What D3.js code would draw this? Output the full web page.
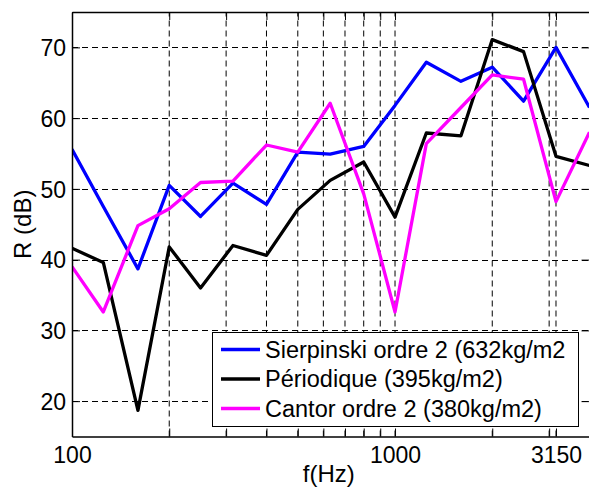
<!DOCTYPE html>
<html>
<head>
<meta charset="utf-8">
<script src="https://cdn.jsdelivr.net/npm/d3@7"></script>
<style>
  html, body { margin: 0; padding: 0; background: #fff; overflow: hidden; }
  svg { display: block; font-family: "Liberation Sans", Arial, sans-serif; }
</style>
</head>
<body>
<svg id="chart" width="589" height="488"></svg>
<script>
// Third-octave band centres (Hz)
const freqs = [100, 125, 160, 200, 250, 315, 400, 500, 630, 800, 1000, 1250, 1600, 2000, 2500, 3150, 4000];

// R (dB)
const sierpinski = [55.6, 47.5, 38.7, 50.5, 46.1, 50.8, 47.8, 55.2, 54.9, 56.0, 61.8, 67.9, 65.2, 67.2, 62.4, 70.0, 61.5];
const periodique = [41.6, 39.6, 18.7, 41.8, 36.0, 42.0, 40.6, 47.1, 51.2, 53.8, 46.0, 57.9, 57.5, 71.1, 69.4, 54.6, 53.3];
const cantor = [39.0, 32.6, 44.8, 47.2, 50.9, 51.1, 56.2, 55.2, 62.1, 49.3, 32.6, 56.4, 61.5, 66.1, 65.5, 48.2, 58.0];

const seriesNames = ['Sierpinski ordre 2 (632kg/m2', 'Périodique (395kg/m2)', 'Cantor ordre 2 (380kg/m2)'];
const seriesColors = ['#0000ff', '#000000', '#ff00ff'];

const xTickLabels = [100, 1000, 3150];
const xMinorTicks = [200, 300, 400, 500, 600, 700, 800, 900, 2000, 3000];
const yTicks = [20, 30, 40, 50, 60, 70];

const svg = d3.select('#chart');
const margin = { left: 72, right: 589.5, top: 12, bottom: 436.5 };

const x = d3.scaleLog()
  .domain([100, 4000])
  .range([margin.left, margin.right]);

const y = d3.scaleLinear()
  .domain([15, 75])
  .range([margin.bottom, margin.top]);

// Grid (dashed)
const gridX = xMinorTicks.concat([1000, 3150]);

svg.append('g')
  .attr('stroke', '#000')
  .attr('stroke-width', 1)
  .attr('stroke-dasharray', '6,4')
  .selectAll('line')
  .data(gridX)
  .join('line')
  .attr('x1', d => x(d))
  .attr('x2', d => x(d))
  .attr('y1', margin.bottom)
  .attr('y2', margin.top);

svg.append('g')
  .attr('stroke', '#000')
  .attr('stroke-width', 1)
  .attr('stroke-dasharray', '6,4')
  .selectAll('line')
  .data(yTicks)
  .join('line')
  .attr('x1', margin.left)
  .attr('x2', margin.right)
  .attr('y1', d => Math.round(y(d)) + 0.5)
  .attr('y2', d => Math.round(y(d)) + 0.5);

// Series lines
svg.append('clipPath').attr('id', 'clip')
  .append('rect')
  .attr('x', margin.left).attr('y', margin.top)
  .attr('width', margin.right - margin.left).attr('height', margin.bottom - margin.top);

const allSeries = [sierpinski, periodique, cantor];

const line = d3.line()
  .x((d, i) => x(freqs[i]))
  .y(d => y(d));

svg.append('g')
  .attr('clip-path', 'url(#clip)')
  .selectAll('path')
  .data(allSeries)
  .join('path')
  .attr('fill', 'none')
  .attr('stroke', (d, i) => seriesColors[i])
  .attr('stroke-width', 3.3)
  .attr('stroke-linejoin', 'round')
  .attr('d', line);

// Axes
const fmt = d => xTickLabels.indexOf(d) >= 0 ? d : '';

const xAxis = svg.append('g')
  .attr('transform', `translate(0,${margin.bottom})`)
  .call(d3.axisBottom(x)
    .tickValues(xTickLabels.concat(xMinorTicks))
    .tickFormat(fmt)
    .tickSizeInner(-8)
    .tickSizeOuter(0)
    .tickPadding(10));

svg.append('g')
  .attr('transform', `translate(0,${margin.top})`)
  .call(d3.axisTop(x)
    .tickValues(xTickLabels.concat(xMinorTicks))
    .tickFormat('')
    .tickSizeInner(-8)
    .tickSizeOuter(0));

const yAxis = svg.append('g')
  .attr('transform', `translate(${margin.left},0)`)
  .call(d3.axisLeft(y)
    .tickValues(yTicks)
    .tickSizeInner(-8)
    .tickSizeOuter(0)
    .tickPadding(6));

svg.append('g')
  .attr('transform', `translate(${margin.right},0)`)
  .call(d3.axisRight(y)
    .tickValues(yTicks)
    .tickFormat('')
    .tickSizeInner(-8)
    .tickSizeOuter(0));

svg.selectAll('.domain').attr('stroke', '#000').attr('stroke-width', 1.5);
svg.selectAll('.tick line').attr('stroke', '#000');
svg.selectAll('.tick text')
  .attr('fill', '#000')
  .style('font-size', '23px');

yAxis.selectAll('.tick text').attr('dy', '0.36em');
xAxis.selectAll('.tick text').attr('dy', '0.72em');

// Axis labels
svg.append('text')
  .attr('x', (margin.left + margin.right) / 2 - 2)
  .attr('y', 482)
  .attr('text-anchor', 'middle')
  .style('font-size', '24px')
  .text('f(Hz)');

svg.append('text')
  .attr('transform', `translate(31,${(margin.top + margin.bottom) / 2}) rotate(-90)`)
  .attr('text-anchor', 'middle')
  .style('font-size', '24px')
  .text('R (dB)');

// Legend
const legend = svg.append('g');

legend.append('rect')
  .attr('x', 212.5)
  .attr('y', 332.5)
  .attr('width', 366)
  .attr('height', 94)
  .attr('fill', '#fff')
  .attr('stroke', '#000')
  .attr('stroke-width', 1);

const rows = legend.selectAll('g.row')
  .data(seriesNames)
  .join('g')
  .attr('transform', (d, i) => `translate(0,${349.5 + i * 29.5})`);

rows.append('line')
  .attr('x1', 221)
  .attr('x2', 260)
  .attr('stroke', (d, i) => seriesColors[i])
  .attr('stroke-width', 3.3);

rows.append('text')
  .attr('x', 265)
  .attr('dy', '0.36em')
  .style('font-size', '23.5px')
  .text(d => d);
</script>
</body>
</html>
